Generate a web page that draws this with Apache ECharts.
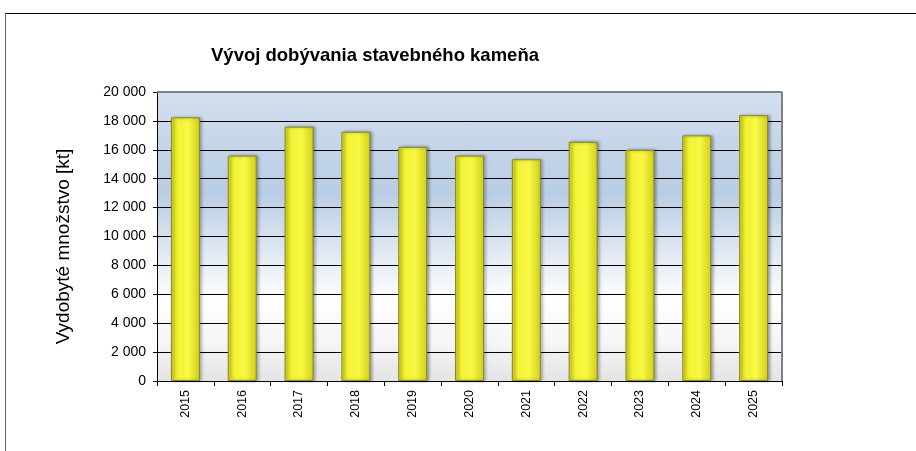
<!DOCTYPE html>
<html>
<head>
<meta charset="utf-8">
<script src="https://cdn.jsdelivr.net/npm/echarts@6/dist/echarts.min.js"></script>
<style>
  html, body { margin: 0; padding: 0; background: #fff; }
  #chart { position: absolute; left: 0; top: 0; width: 916px; height: 451px; }
  #frame { position: absolute; left: 5px; top: 13px; width: 911px; height: 438px;
           border-top: 1px solid #000; border-left: 1px solid #666; pointer-events: none; }
</style>
</head>
<body>
<div id="chart"></div>
<div id="frame"></div>
<script>
  // roky a vydobyté množstvo [kt]
  const years = ['2015', '2016', '2017', '2018', '2019', '2020', '2021', '2022', '2023', '2024', '2025']
  const values = [18250, 15600, 17600, 17250, 16200, 15600, 15350, 16550, 16000, 17000, 18400]

  const chart = echarts.init(document.getElementById('chart'))
  chart.setOption({
    animation: false,
    title: {
      text: 'Vývoj dobývania stavebného kameňa',
      left: 206,
      top: 41,
      textStyle: { fontFamily: 'Liberation Sans, Arial', fontSize: 18.5, fontWeight: 'bold', color: '#000' }
    },
    grid: {
      left: 157,
      right: 134,
      top: 92,
      bottom: 70,
      show: true,
      borderWidth: 0,
      backgroundColor: {
        type: 'linear', x: 0, y: 0, x2: 0, y2: 1,
        colorStops: [
          { offset: 0, color: '#d3dfee' },
          { offset: 0.35, color: '#b9cde4' },
          { offset: 0.72, color: '#ffffff' },
          { offset: 0.86, color: '#f6f6f6' },
          { offset: 1, color: '#e4e4e4' }
        ]
      }
    },
    xAxis: {
      type: 'category',
      data: years,
      axisLine: { lineStyle: { color: '#000', width: 1 } },
      axisTick: { show: true, inside: false, length: 5, lineStyle: { color: '#000' } },
      axisLabel: {
        rotate: 90,
        margin: 9,
        fontFamily: 'Liberation Sans, Arial',
        fontSize: 12.5,
        color: '#000'
      }
    },
    yAxis: {
      type: 'value',
      min: 0,
      max: 20000,
      interval: 2000,
      name: 'Vydobyté množstvo [kt]',
      nameLocation: 'middle',
      nameGap: 84,
      nameTextStyle: { fontFamily: 'Liberation Sans, Arial', fontSize: 19, color: '#000', padding: [0, 20, 0, 0] },
      axisLine: { show: true, lineStyle: { color: '#000', width: 1 } },
      axisTick: { show: true, length: 4, lineStyle: { color: '#000' } },
      axisLabel: {
        fontFamily: 'Liberation Sans, Arial',
        fontSize: 14,
        color: '#000',
        margin: 11,
        formatter: function(v) {
          return String(v).replace(/\B(?=(\d{3})+(?!\d))/g, ' ')
        }
      },
      splitLine: { show: true, lineStyle: { color: '#000', width: 1 } }
    },
    series: [{
      type: 'bar',
      data: values,
      barWidth: '51%',
      itemStyle: {
        color: {
          type: 'linear', x: 0, y: 0, x2: 1, y2: 0,
          colorStops: [
            { offset: 0, color: '#d4d41c' },
            { offset: 0.25, color: '#f3f336' },
            { offset: 0.6, color: '#f7f745' },
            { offset: 1, color: '#d0d01a' }
          ]
        },
        borderColor: '#8a8a2c',
        borderWidth: 1,
        shadowColor: 'rgba(0,0,0,0.35)',
        shadowBlur: 3,
        shadowOffsetX: 2,
        shadowOffsetY: 0
      }
    }],
    graphic: [
      // šedý rám plochy grafu (horný a pravý okraj)
      { type: 'line', shape: { x1: 157, y1: 92, x2: 782, y2: 92 }, style: { stroke: '#808080', lineWidth: 2 }, z: 100 },
      { type: 'line', shape: { x1: 782, y1: 92, x2: 782, y2: 381 }, style: { stroke: '#808080', lineWidth: 2 }, z: 100 }
    ]
  })
</script>
</body>
</html>
